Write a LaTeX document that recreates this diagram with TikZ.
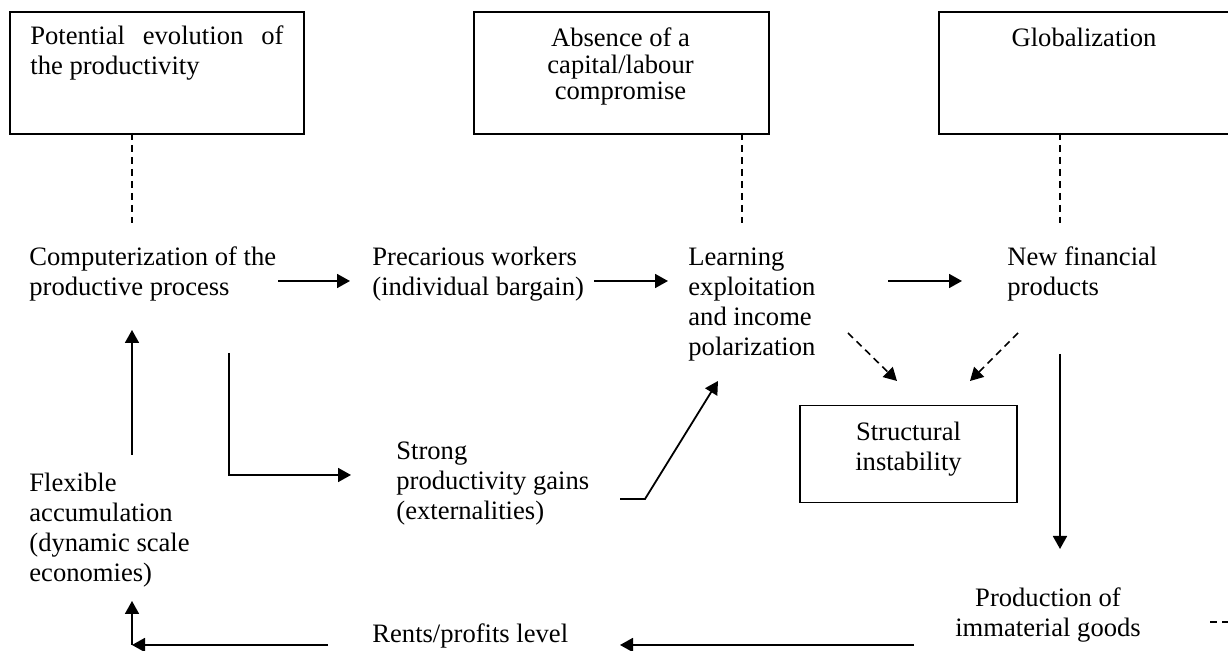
\documentclass[tikz,border=0pt]{standalone}
\usepackage{fontspec}
\setmainfont{Liberation Serif}
\usetikzlibrary{arrows.meta}

\begin{document}
\begin{tikzpicture}[x=0.5pt, y=-0.5pt, >={Triangle[length=6.5pt,width=7pt]},
    every node/.style={inner sep=0pt, font=\fontsize{13.3}{15}\selectfont},
    txt/.style={anchor=base west, align=left},
    frame/.style={draw, line width=1pt, anchor=north west},
    link/.style={->, line width=0.9pt},
    hint/.style={line width=0.8pt, dash pattern=on 3.5pt off 2.5pt}]
  \clip (0,0) rectangle (1228,651);
  % top boxes
  \node[frame, minimum width=147pt, minimum height=61pt] (potbox) at (9,11) {};
  \node[anchor=base west, text width=126.5pt, align=justify] (pot) at (30,45)
    {Potential evolution of\linebreak the productivity};
  \node[frame, minimum width=147.5pt, minimum height=61pt] (absbox) at (473,11) {};
  \node[anchor=base, align=center, font=\fontsize{13.3}{13.3}\selectfont] (abs) at (620.5,100)
    {Absence of a\\capital/labour\\compromise};
  \node[frame, minimum width=147pt, minimum height=61pt] (globbox) at (938,11) {};
  \node[anchor=base] (glob) at (1084,47) {Globalization};
  \draw[hint] (132,133) -- (132,223);
  \draw[hint] (742,133) -- (742,223);
  \draw[hint] (1060,133) -- (1060,223);
  % first row (base = last line)
  \node[txt] (comp) at (29,296) {Computerization of the\\productive process};
  \node[txt] (prec) at (372,296) {Precarious workers\\(individual bargain)};
  \node[txt] (learn) at (688,356) {Learning\\exploitation\\and income\\polarization};
  \node[txt] (newfin) at (1007,296) {New financial\\products};
  \draw[link] (278,281) -- (350,281);
  \draw[link] (594,281) -- (668,281);
  \draw[link] (888,281) -- (962,281);
  % structural instability
  \node[draw, line width=0.7pt, minimum width=108.5pt, minimum height=48.5pt] (structbox) at (908.5,454) {};
  \node[anchor=base, align=center] (struct) at (908.5,471)
    {Structural\\instability};
  \draw[->, hint] (848,333) -- (897,381);
  \draw[->, hint] (1018,333) -- (970,381);
  \draw[link] (1060,354) -- (1060,549);
  % lower part
  \node[txt] (flex) at (29,582) {Flexible\\accumulation\\(dynamic scale\\economies)};
  \node[txt] (strong) at (396,520) {Strong\\productivity gains\\(externalities)};
  \node[anchor=base, align=center] (prod) at (1048,637) {Production of\\immaterial goods};
  \node[anchor=base west] (rents) at (372,643) {Rents/profits level};
  \draw[link] (132,455) -- (132,330);
  \draw[link] (229,353) -- (229,475) -- (351,475);
  \draw[link] (620,499) -- (645,499) -- (718,381);
  \draw[link] (914,645) -- (620,645);
  \draw[link] (328,645) -- (132,645);
  \draw[link] (132,645) -- (132,601);
  \draw[hint] (1210,622) -- (1228,622);
\end{tikzpicture}
\end{document}
